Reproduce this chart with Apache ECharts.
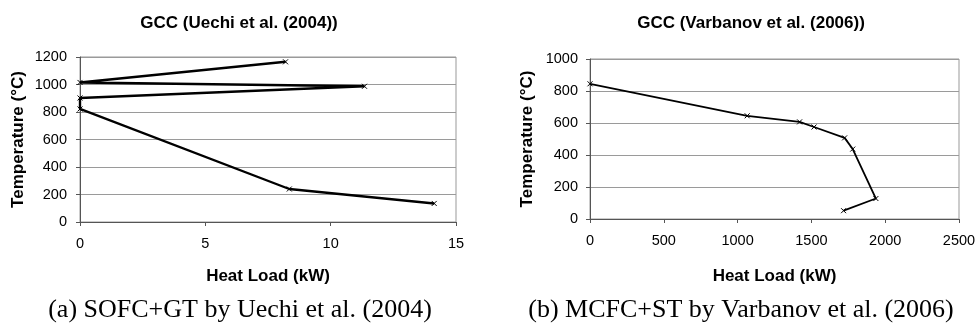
<!DOCTYPE html>
<html>
<head>
<meta charset="utf-8">
<script src="https://cdn.jsdelivr.net/npm/echarts@6/dist/echarts.min.js"></script>
<style>
html,body{margin:0;padding:0;background:#fff;}
#c{width:979px;height:329px;}
</style>
</head>
<body>
<div id="c"></div>
<script>
// Chart (a): GCC Uechi et al. (2004)
var heatLoadA = [8.2, 0, 11.35, 0, 0, 8.35, 14.13];
var tempA = [1165, 1015, 987, 902, 822, 240, 135];
var xTicksA = [0, 5, 10, 15];
var yTicksA = [0, 200, 400, 600, 800, 1000, 1200];

// Chart (b): GCC Varbanov et al. (2006)
var heatLoadB = [0, 1065, 1420, 1518, 1725, 1780, 1937, 1718];
var tempB = [845, 645, 607, 575, 507, 437, 128, 52];
var xTicksB = [0, 500, 1000, 1500, 2000, 2500];
var yTicksB = [0, 200, 400, 600, 800, 1000];

var titleA = 'GCC (Uechi et al. (2004))';
var titleB = 'GCC (Varbanov et al. (2006))';
var captionA = '(a) SOFC+GT by Uechi et al. (2004)';
var captionB = '(b) MCFC+ST by Varbanov et al. (2006)';
var xName = 'Heat Load (kW)';
var yName = 'Temperature (°C)';

function pairs(xs, ys){ return xs.map(function(x,i){ return [x, ys[i]]; }); }

var sans = 'Liberation Sans, Arial, sans-serif';
var serif = 'Liberation Serif, Times New Roman, serif';
var cross = 'path://M0,0L10,10M10,0L0,10';

function xAxis(gi, ticks, gap){
  return {
    type:'value', gridIndex:gi, min:ticks[0], max:ticks[ticks.length-1],
    interval:ticks[1]-ticks[0],
    name:xName, nameLocation:'middle', nameGap:gap,
    nameTextStyle:{fontFamily:sans, fontWeight:'bold', fontSize:17, color:'#000', verticalAlign:'top'},
    axisLine:{show:true, onZero:false, lineStyle:{color:'#555', width:1}},
    axisTick:{show:true, length:4, lineStyle:{color:'#555'}},
    axisLabel:{fontFamily:sans, fontSize:14.5, color:'#000', margin:14, formatter:function(v){return String(v);}},
    splitLine:{show:false}
  };
}
function yAxis(gi, ticks, gap, margin){
  return {
    type:'value', gridIndex:gi, min:ticks[0], max:ticks[ticks.length-1],
    interval:ticks[1]-ticks[0],
    name:yName, nameLocation:'middle', nameGap:gap,
    nameTextStyle:{fontFamily:sans, fontWeight:'bold', fontSize:17, color:'#000'},
    axisLine:{show:true, onZero:false, lineStyle:{color:'#555', width:1}},
    axisTick:{show:true, length:4, lineStyle:{color:'#555'}},
    axisLabel:{fontFamily:sans, fontSize:14.5, color:'#000', margin:margin, formatter:function(v){return String(v);}},
    splitLine:{show:true, lineStyle:{color:'#9a9a9a', width:1}}
  };
}

var chart = echarts.init(document.getElementById('c'), null, {renderer:'canvas'});
chart.setOption({
  animation:false,
  backgroundColor:'#fff',
  title:[
    {text:titleA, left:234, top:10, textAlign:'center', textStyle:{fontFamily:sans, fontWeight:'bold', fontSize:17, color:'#000'}},
    {text:titleB, left:746, top:10, textAlign:'center', textStyle:{fontFamily:sans, fontWeight:'bold', fontSize:17, color:'#000'}},
    {text:captionA, left:235, top:292, textAlign:'center', textStyle:{fontFamily:serif, fontWeight:'normal', fontSize:26, color:'#000'}},
    {text:captionB, left:736, top:292, textAlign:'center', textStyle:{fontFamily:serif, fontWeight:'normal', fontSize:26, color:'#000'}}
  ],
  grid:[
    {left:80, top:57, width:376, height:165, show:true, borderColor:'#999', borderWidth:1, backgroundColor:'transparent'},
    {left:590, top:59, width:369, height:160, show:true, borderColor:'#999', borderWidth:1, backgroundColor:'transparent'}
  ],
  xAxis:[ xAxis(0, xTicksA, 46), xAxis(1, xTicksB, 49) ],
  yAxis:[ yAxis(0, yTicksA, 53, 13), yAxis(1, yTicksB, 54, 12) ],
  series:[
    {type:'line', xAxisIndex:0, yAxisIndex:0, data:pairs(heatLoadA, tempA),
     symbol:cross, symbolSize:5, showSymbol:true,
     lineStyle:{color:'#000', width:2.4},
     itemStyle:{color:'#000', borderColor:'#000', borderWidth:1}},
    {type:'line', xAxisIndex:1, yAxisIndex:1, data:pairs(heatLoadB, tempB),
     symbol:cross, symbolSize:5, showSymbol:true,
     lineStyle:{color:'#000', width:1.8},
     itemStyle:{color:'#000', borderColor:'#000', borderWidth:1}}
  ]
});
</script>
</body>
</html>
